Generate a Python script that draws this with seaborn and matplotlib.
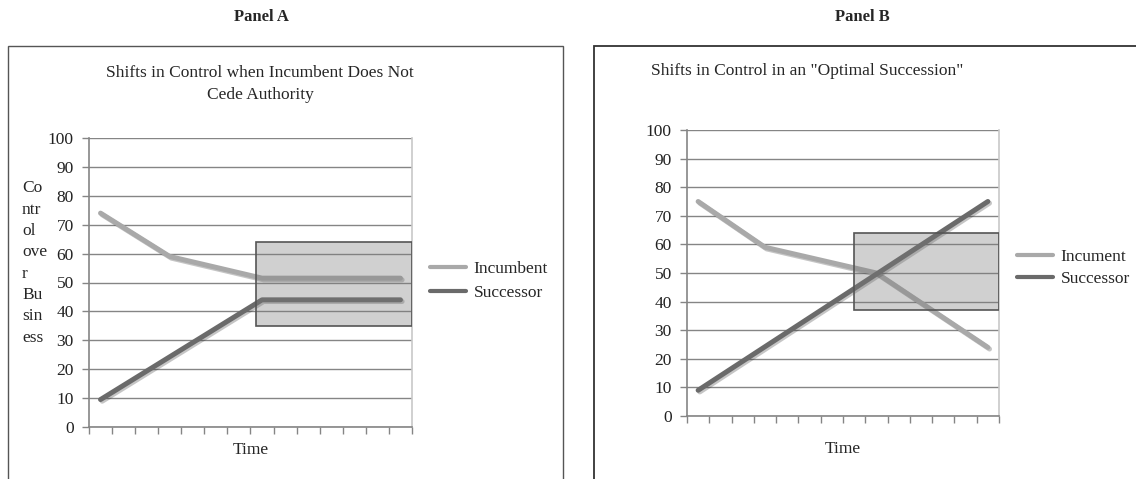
import numpy as np
import pandas as pd
import matplotlib
matplotlib.use("Agg")
import matplotlib.pyplot as plt
import matplotlib.patheffects as pe
from matplotlib.patches import Rectangle
from matplotlib.lines import Line2D
import seaborn as sns

# ---- data -------------------------------------------------------------
n_periods = 14

# Panel A: incumbent keeps control
incumbent_a_period = [0, 3, 7, 13]
incumbent_a_value = [74, 59, 51.5, 51.5]
successor_a_period = [0, 7, 13]
successor_a_value = [9.5, 44, 44]
zone_a = (6.75, 13.5, 35, 64)  # period start, period end, low, high

# Panel B: optimal succession
incumbent_b_period = [0, 3, 8, 13]
incumbent_b_value = [75, 59, 50, 24]
successor_b_period = [0, 13]
successor_b_value = [9, 75]
zone_b = (7, 13.5, 37, 64)

panel_titles = ["Panel A", "Panel B"]
chart_titles = ["Shifts in Control when Incumbent Does Not\nCede Authority",
                "Shifts in Control in an \"Optimal Succession\""]
legend_names = [["Incumbent", "Successor"], ["Incument", "Successor"]]
y_label = "Co\nntr\nol\nove\nr\nBu\nsin\ness"
x_label = "Time"

# ---- style ------------------------------------------------------------
sns.set_theme(style="white")
plt.rcParams["font.family"] = ["Liberation Serif", "DejaVu Serif"]
FS = 12.5
LIGHT = "#a9a9a9"
DARK = "#6a6a6a"
GRID = "#858585"

W, H = 1136, 479
fig = plt.figure(figsize=(W / 100, H / 100), dpi=100)


def fx(px):
    return px / W


def fy(py):
    return 1 - py / H


def draw_panel(series, ax, names, zone):
    frames = []
    for (per, val), name in zip(series, names):
        frames.append(pd.DataFrame({"period": per, "control": val, "role": name}))
    df = pd.concat(frames, ignore_index=True)
    shadow = [pe.SimpleLineShadow(offset=(1.2, -1.2), alpha=0.25), pe.Normal()]
    sns.lineplot(data=df, x="period", y="control", hue="role",
                 palette={names[0]: LIGHT, names[1]: DARK},
                 linewidth=3.6, ax=ax, legend=False, sort=False,
                 path_effects=shadow)
    ax.set_xlim(-0.5, n_periods - 0.5)
    ax.set_ylim(0, 100)
    ax.set_yticks(np.arange(0, 101, 10))
    ax.set_xticks(np.arange(-0.5, n_periods, 1.0))
    ax.set_xticklabels([])
    ax.yaxis.grid(True, color=GRID, linewidth=1.0)
    ax.xaxis.grid(False)
    ax.tick_params(axis="y", labelsize=FS, length=5, width=1, color=GRID,
                   direction="out", left=True, pad=6, labelcolor="#222222")
    ax.tick_params(axis="x", length=5, width=1, color=GRID, direction="out",
                   bottom=True)
    for side in ["left", "bottom"]:
        ax.spines[side].set_color(GRID)
        ax.spines[side].set_linewidth(1.2)
    ax.spines["right"].set_color("#c8c8c8")
    ax.spines["right"].set_linewidth(1.2)
    ax.spines["top"].set_visible(False)
    ax.set_xlabel("")
    ax.set_ylabel("")
    x0, x1, lo, hi = zone
    ax.add_patch(Rectangle((x0, lo), x1 - x0, hi - lo, facecolor="#7a7a7a",
                           alpha=0.35, edgecolor="none", zorder=4))
    ax.add_patch(Rectangle((x0, lo), x1 - x0, hi - lo, facecolor="none",
                           edgecolor="#555555", linewidth=1.2, zorder=5))
    return ax


# ---- outer panel frames -------------------------------------------------
fig.patches.append(Rectangle((fx(8), fy(500)), fx(563 - 8), fy(46) - fy(500),
                             transform=fig.transFigure, facecolor="none",
                             edgecolor="#555555", linewidth=1.0))
fig.patches.append(Rectangle((fx(594), fy(500)), fx(1200 - 594), fy(46) - fy(500),
                             transform=fig.transFigure, facecolor="none",
                             edgecolor="#333333", linewidth=1.3))

# ---- panel A ----------------------------------------------------------
ax_a = fig.add_axes([fx(89), fy(427), fx(412 - 89), fy(138) - fy(427)])
draw_panel([(incumbent_a_period, incumbent_a_value),
            (successor_a_period, successor_a_value)],
           ax_a, legend_names[0], zone_a)

# ---- panel B ----------------------------------------------------------
ax_b = fig.add_axes([fx(687), fy(416), fx(999 - 687), fy(130) - fy(416)])
draw_panel([(incumbent_b_period, incumbent_b_value),
            (successor_b_period, successor_b_value)],
           ax_b, legend_names[1], zone_b)


# ---- legends ------------------------------------------------------------
def add_legend(names, x, y, spacing):
    handles = [Line2D([], [], color=LIGHT, linewidth=3.0),
               Line2D([], [], color=DARK, linewidth=3.0)]
    fig.legend(handles, names, loc="upper left",
               bbox_to_anchor=(fx(x), fy(y)), frameon=False, fontsize=FS,
               handlelength=2.1, handletextpad=0.4, labelspacing=spacing,
               borderpad=0, borderaxespad=0)


add_legend(legend_names[0], 430, 261, 0.45)
add_legend(legend_names[1], 1017, 249, 0.35)

# ---- text -------------------------------------------------------------
fig.text(fx(261), fy(17), panel_titles[0], ha="center", va="center",
         fontsize=FS - 0.5, fontweight="bold")
fig.text(fx(862), fy(17), panel_titles[1], ha="center", va="center",
         fontsize=FS - 0.5, fontweight="bold")
fig.text(fx(260), fy(84), chart_titles[0], ha="center", va="center",
         fontsize=FS, linespacing=1.55)
fig.text(fx(807), fy(71), chart_titles[1], ha="center", va="center",
         fontsize=FS)
fig.text(fx(22), fy(263), y_label, ha="left", va="center", fontsize=FS,
         linespacing=1.45)
fig.text(fx(251), fy(450), x_label, ha="center", va="center", fontsize=FS)
fig.text(fx(843), fy(449), x_label, ha="center", va="center", fontsize=FS)

fig.savefig("out.png", dpi=100, facecolor="white")
